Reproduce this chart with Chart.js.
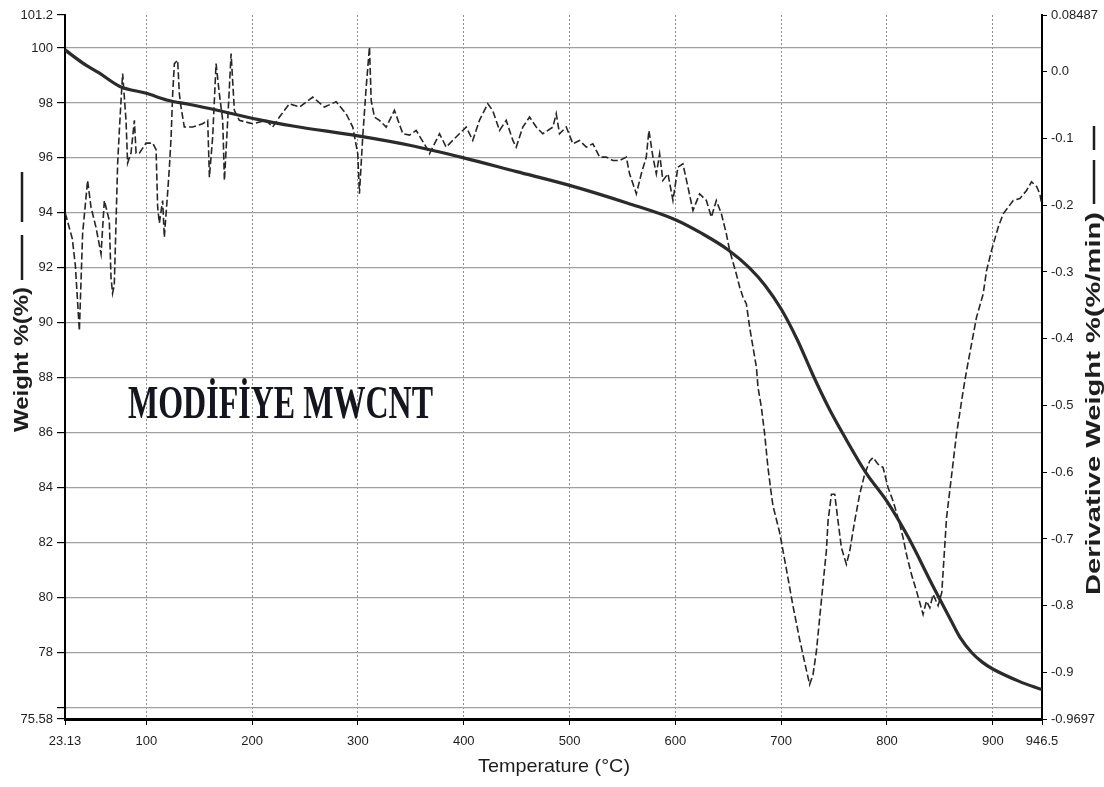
<!DOCTYPE html>
<html>
<head>
<meta charset="utf-8">
<script src="https://cdn.jsdelivr.net/npm/chart.js@4.4.1/dist/chart.umd.min.js"></script>
<style>
  html, body { margin: 0; padding: 0; background: #fff; }
  #wrap { width: 1104px; height: 787px; }
</style>
</head>
<body>
<div id="wrap"><canvas id="tga" width="1104" height="787"></canvas></div>
<script>
// === Data ===
const tempW = [23.13, 40, 55, 75, 100, 120, 140, 165, 205, 240, 300, 350, 400, 450, 500, 555, 600, 625, 650, 670, 685, 700, 715, 730, 745, 760, 780, 800, 820, 843, 860, 869, 880, 890, 900, 925, 946.5];
const weightPct = [99.93, 99.45, 99.1, 98.6, 98.35, 98.1, 97.95, 97.75, 97.4, 97.15, 96.8, 96.45, 96.0, 95.5, 95.0, 94.35, 93.75, 93.25, 92.65, 92.0, 91.35, 90.5, 89.4, 88.1, 86.9, 85.85, 84.55, 83.5, 82.2, 80.45, 79.2, 78.55, 78.0, 77.65, 77.4, 76.95, 76.65];

const tempD = [23.4, 30.0, 32.9, 36.7, 39.8, 44.5, 47.7, 52.4, 57.2, 60.3, 65.0, 66.6, 68.1, 69.7, 71.4, 72.9, 74.5, 76.1, 77.6, 80.8,
  82.3, 85.5, 88.7, 90.3, 93.4, 99.7, 106.0, 109.2, 110.7, 112.3, 115.4, 117.0, 120.1, 121.8, 123.4, 124.9, 126.5, 129.6, 131.2, 132.8,
  135.9, 143.8, 153.2, 158.0, 159.6, 162.7, 165.9, 169.0, 172.2, 173.8, 176.9, 180.1, 183.2, 187.9, 200.5, 213.2, 219.4, 225.8, 235.2, 244.7,
  257.3, 268.3, 279.4, 288.8, 295.1, 299.8, 301.4, 304.5, 307.8, 310.9, 312.5, 315.6, 320.3, 326.7, 334.5, 342.4, 348.7, 355.0, 364.5, 367.6,
  377.1, 383.4, 389.6, 395.9, 402.3, 408.5, 414.8, 422.7, 427.3, 433.8, 440.1, 446.4, 449.6, 455.8, 462.2, 468.5, 474.7, 484.2, 487.4, 490.5,
  496.9, 503.1, 509.4, 515.8, 522.0, 528.4, 534.7, 540.9, 547.3, 553.6, 556.7, 563.1, 567.8, 572.5, 575.0, 578.8, 582.0, 585.1, 588.2, 593.0,
  597.7, 602.4, 607.1, 611.9, 616.6, 622.9, 629.3, 634.0, 638.7, 643.5, 648.2, 651.3, 657.6, 660.8, 663.9, 667.1, 670.2, 673.4, 676.6, 678.1,
  681.3, 684.4, 687.5, 690.7, 692.2, 698.5, 704.9, 711.1, 717.4, 722.2, 726.9, 730.1, 733.3, 736.4, 739.5, 742.7, 744.3, 747.5, 750.6, 753.7,
  756.9, 761.6, 764.8, 769.5, 774.2, 778.9, 783.7, 786.8, 791.5, 796.3, 801.0, 805.7, 810.4, 815.2, 818.4, 823.1, 827.9, 834.1, 837.3, 840.5,
  843.6, 848.3, 851.8, 856.3, 865.7, 872.0, 875.2, 884.6, 890.9, 894.1, 898.8, 905.1, 909.8, 919.3, 925.6, 931.9, 936.6, 941.4, 944.5, 946.1];
const derivPct = [-0.212, -0.25, -0.29, -0.388, -0.242, -0.163, -0.203, -0.233, -0.273, -0.193, -0.223, -0.308, -0.332, -0.32, -0.223, -0.137, -0.088, -0.043, -0.003, -0.073,
  -0.137, -0.122, -0.073, -0.122, -0.122, -0.107, -0.107, -0.117, -0.203, -0.227, -0.193, -0.248, -0.182, -0.143, -0.098, -0.033, 0.012, 0.017, -0.033, -0.053,
  -0.083, -0.083, -0.078, -0.073, -0.158, -0.098, 0.012, -0.033, -0.073, -0.163, -0.073, 0.027, -0.058, -0.073, -0.078, -0.073, -0.083, -0.068, -0.048, -0.053,
  -0.038, -0.053, -0.045, -0.063, -0.083, -0.123, -0.183, -0.098, -0.023, 0.037, -0.043, -0.068, -0.073, -0.083, -0.058, -0.093, -0.095, -0.088, -0.113, -0.123,
  -0.093, -0.113, -0.103, -0.093, -0.083, -0.103, -0.073, -0.048, -0.058, -0.088, -0.073, -0.103, -0.113, -0.083, -0.068, -0.083, -0.093, -0.083, -0.063, -0.093,
  -0.083, -0.108, -0.103, -0.113, -0.108, -0.128, -0.128, -0.133, -0.133, -0.128, -0.153, -0.183, -0.153, -0.128, -0.088, -0.128, -0.153, -0.123, -0.163, -0.153,
  -0.193, -0.143, -0.138, -0.173, -0.208, -0.183, -0.193, -0.218, -0.193, -0.213, -0.243, -0.268, -0.303, -0.323, -0.338, -0.348, -0.383, -0.413, -0.443, -0.473,
  -0.503, -0.543, -0.593, -0.633, -0.65, -0.69, -0.745, -0.80, -0.85, -0.885, -0.918, -0.903, -0.868, -0.818, -0.768, -0.718, -0.673, -0.633, -0.633, -0.673,
  -0.713, -0.738, -0.718, -0.673, -0.633, -0.603, -0.583, -0.578, -0.588, -0.593, -0.623, -0.643, -0.668, -0.698, -0.723, -0.753, -0.778, -0.813, -0.793, -0.803,
  -0.783, -0.80, -0.78, -0.668, -0.543, -0.478, -0.448, -0.368, -0.333, -0.298, -0.268, -0.233, -0.213, -0.193, -0.19, -0.178, -0.165, -0.172, -0.183, -0.198];

const xTickVals = [23.13, 100, 200, 300, 400, 500, 600, 700, 800, 900, 946.5];
const xTickLabels = ['23.13', '100', '200', '300', '400', '500', '600', '700', '800', '900', '946.5'];
const leftTickVals = [75.58, 76, 78, 80, 82, 84, 86, 88, 90, 92, 94, 96, 98, 100, 101.2];
const leftTickLabels = ['75.58', '', '78', '80', '82', '84', '86', '88', '90', '92', '94', '96', '98', '100', '101.2'];
const rightTickVals = [-0.9697, -0.9, -0.8, -0.7, -0.6, -0.5, -0.4, -0.3, -0.2, -0.1, 0.0, 0.08487];
const rightTickLabels = ['-0.9697', '-0.9', '-0.8', '-0.7', '-0.6', '-0.5', '-0.4', '-0.3', '-0.2', '-0.1', '0.0', '0.08487'];

const tickFont = { family: '"Liberation Sans", Arial, sans-serif', size: 13 };
const ink = '#1e1e1e';

// draw text along a line, stretched/squeezed to a target length
function fitText(ctx, text, x, y, font, len, rot) {
  ctx.save();
  ctx.font = font;
  const w = ctx.measureText(text).width;
  ctx.translate(x, y);
  ctx.rotate(rot);
  ctx.scale(len / w, 1);
  ctx.textAlign = 'left';
  ctx.textBaseline = 'middle';
  ctx.fillText(text, 0, 0);
  ctx.restore();
}

const overlay = {
  id: 'overlay',
  afterDraw(chart) {
    const ctx = chart.ctx;
    ctx.save();
    ctx.fillStyle = ink;
    ctx.strokeStyle = ink;
    // left title + solid-line key
    fitText(ctx, 'Weight %(%)', 22, 432, 'bold 20px "Liberation Sans", Arial, sans-serif', 145, -Math.PI / 2);
    ctx.lineWidth = 2.5;
    ctx.beginPath(); ctx.moveTo(22, 280); ctx.lineTo(22, 235); ctx.stroke();
    ctx.beginPath(); ctx.moveTo(22, 222); ctx.lineTo(22, 172); ctx.stroke();
    // right title + dashed-line key
    fitText(ctx, 'Derivative Weight %(%/min)', 1094, 595, 'bold 20px "Liberation Sans", Arial, sans-serif', 383, -Math.PI / 2);
    ctx.beginPath(); ctx.moveTo(1094, 204); ctx.lineTo(1094, 160); ctx.stroke();
    ctx.beginPath(); ctx.moveTo(1094, 150); ctx.lineTo(1094, 126); ctx.stroke();
    // x title
    fitText(ctx, 'Temperature (°C)', 478, 767, '19px "Liberation Sans", Arial, sans-serif', 152, 0);
    // sample label
    ctx.fillStyle = '#151520';
    ctx.font = 'bold 47px "Liberation Serif", "DejaVu Serif", serif';
    const t = 'MODİFİYE MWCNT';
    const w = ctx.measureText(t).width;
    ctx.translate(128, 418);
    ctx.scale(305 / w, 1);
    ctx.textBaseline = 'alphabetic';
    ctx.fillText(t, 0, 0);
    ctx.restore();
  }
};

const edgeClear = (vals, color) => c => {
  const v = c.tick && c.tick.value;
  return (v === vals[0] || v === vals[vals.length - 1]) ? 'rgba(0,0,0,0)' : color;
};

new Chart(document.getElementById('tga'), {
  type: 'line',
  data: {
    datasets: [
      {
        label: 'Weight %',
        data: tempW.map((t, i) => ({ x: t, y: weightPct[i] })),
        yAxisID: 'y',
        borderColor: '#2b2b2b',
        borderWidth: 3.2,
        pointRadius: 0,
        cubicInterpolationMode: 'monotone'
      },
      {
        label: 'Derivative Weight %',
        data: tempD.map((t, i) => ({ x: t, y: derivPct[i] })),
        yAxisID: 'y1',
        borderColor: '#262626',
        borderWidth: 1.6,
        borderDash: [7, 3],
        pointRadius: 0,
        tension: 0
      }
    ]
  },
  options: {
    responsive: false,
    animation: false,
    devicePixelRatio: 1,
    layout: { padding: { top: 15, left: 0, right: 0, bottom: 0 } },
    plugins: { legend: { display: false }, tooltip: { enabled: false } },
    scales: {
      x: {
        type: 'linear',
        min: 23.13, max: 946.5,
        afterBuildTicks: s => { s.ticks = xTickVals.map(v => ({ value: v })); },
        afterFit: s => { s.height = 68; },
        ticks: { autoSkip: false, maxRotation: 0, padding: 9, color: ink, font: tickFont,
                 callback: (v, i) => xTickLabels[i] },
        grid: { color: edgeClear(xTickVals, '#8c8c8c'), lineWidth: 1, tickColor: '#000', tickLength: 6 },
        border: { color: '#000', width: 3, dash: [2, 2] }
      },
      y: {
        position: 'left',
        min: 75.58, max: 101.2,
        afterBuildTicks: s => { s.ticks = leftTickVals.map(v => ({ value: v })); },
        afterFit: s => { s.width = 65; },
        ticks: { autoSkip: false, padding: 4, color: ink, font: tickFont,
                 callback: (v, i) => leftTickLabels[i] },
        grid: { color: edgeClear(leftTickVals, '#a0a0a0'), lineWidth: 1.2, tickColor: '#000', tickLength: 8 },
        border: { color: '#000', width: 2 }
      },
      y1: {
        position: 'right',
        min: -0.9697, max: 0.08487,
        afterBuildTicks: s => { s.ticks = rightTickVals.map(v => ({ value: v })); },
        afterFit: s => { s.width = 62; },
        ticks: { autoSkip: false, padding: 4, color: ink, font: tickFont,
                 callback: (v, i) => rightTickLabels[i] },
        grid: { drawOnChartArea: false, tickColor: '#000', tickLength: 5 },
        border: { color: '#000', width: 2 }
      }
    }
  },
  plugins: [overlay]
});
</script>
</body>
</html>
